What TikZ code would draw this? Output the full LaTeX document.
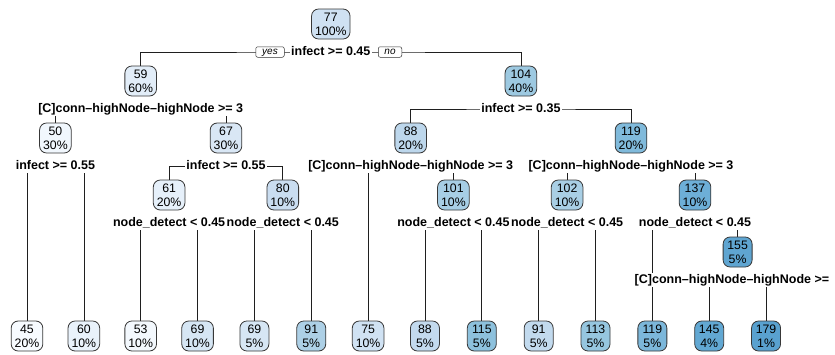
\documentclass[tikz,border=0pt]{standalone}
\usepackage{fontspec}
\setmainfont{Liberation Sans}
\pgfdeclarelayer{back0}
\pgfdeclarelayer{background}
\pgfsetlayers{back0,background,main}
\definecolor{c45}{HTML}{F7FBFF}
\definecolor{c50}{HTML}{F1F7FD}
\definecolor{c53}{HTML}{F3F8FD}
\definecolor{c59}{HTML}{E2EDF8}
\definecolor{c60}{HTML}{E9F2FB}
\definecolor{c61}{HTML}{E6F0FA}
\definecolor{c67}{HTML}{D9E7F5}
\definecolor{c69}{HTML}{D6E6F4}
\definecolor{c75}{HTML}{D0E2F3}
\definecolor{c77}{HTML}{CFE1F2}
\definecolor{c80}{HTML}{CADDF0}
\definecolor{c88}{HTML}{BDD7EC}
\definecolor{c88l}{HTML}{C3DAEE}
\definecolor{c91a}{HTML}{ADD0E6}
\definecolor{c91b}{HTML}{C2DAEE}
\definecolor{c101}{HTML}{A7CEE5}
\definecolor{c102}{HTML}{A9CFE5}
\definecolor{c104}{HTML}{9DC9E1}
\definecolor{c113}{HTML}{96C6DF}
\definecolor{c115}{HTML}{8DC1DD}
\definecolor{c119}{HTML}{80BADB}
\definecolor{c119l}{HTML}{7CB7DA}
\definecolor{c137}{HTML}{6DAFD7}
\definecolor{c145}{HTML}{62A8D3}
\definecolor{c155}{HTML}{5FA5D1}
\definecolor{c179}{HTML}{59A1CF}
\tikzset{
  tnode/.style={draw=black!78, line width=0.8pt, rounded corners=7pt, align=center,
    inner xsep=3.5pt, inner ysep=1pt, minimum height=30pt, minimum width=29pt,
    font=\fontsize{12.3}{14}\selectfont},
  split/.style={fill=white, inner xsep=1.5pt, inner ysep=1pt, text height=9.5pt, text depth=2.5pt,
    font=\fontsize{12.5}{14}\selectfont\bfseries},
  yn/.style={draw=black!80, fill=white, rounded corners=2pt, line width=0.5pt,
    inner xsep=0pt, inner ysep=0pt, minimum height=10.5pt, text height=6pt, text depth=1.5pt,
    font=\fontsize{10}{10}\selectfont\itshape},
  edge/.style={draw=black!88, line width=0.7pt},
}
\begin{document}
\begin{tikzpicture}[x=1pt,y=-1pt]
\useasboundingbox (0,0) rectangle (835,354);
\begin{pgfonlayer}{back0}
\fill[white] (0,0) rectangle (835,354);
\end{pgfonlayer}
% internal nodes
\node[tnode, fill=c77] (n77) at (330.8,24) {77\\100\%};
\node[tnode, fill=c59] (n59) at (140.7,81) {59\\60\%};
\node[tnode, fill=c104] (n104) at (520.9,81) {104\\40\%};
\node[tnode, fill=c50] (n50) at (55.4,138) {50\\30\%};
\node[tnode, fill=c67] (n67) at (226,138) {67\\30\%};
\node[tnode, fill=c88] (n88) at (410.7,138) {88\\20\%};
\node[tnode, fill=c119] (n119) at (631,138) {119\\20\%};
\node[tnode, fill=c61] (n61) at (169.1,195) {61\\20\%};
\node[tnode, fill=c80] (n80) at (282.8,195) {80\\10\%};
\node[tnode, fill=c101] (n101) at (453.4,195) {101\\10\%};
\node[tnode, fill=c102] (n102) at (567.1,195) {102\\10\%};
\node[tnode, fill=c137] (n137) at (695,195) {137\\10\%};
\node[tnode, fill=c155] (n155) at (737.6,252) {155\\5\%};
% leaves
\node[tnode, fill=c45] (l0) at (27,336) {45\\20\%};
\node[tnode, fill=c60] (l1) at (83.85,336) {60\\10\%};
\node[tnode, fill=c53] (l2) at (140.7,336) {53\\10\%};
\node[tnode, fill=c69] (l3) at (197.55,336) {69\\10\%};
\node[tnode, fill=c69] (l4) at (254.4,336) {69\\5\%};
\node[tnode, fill=c91a] (l5) at (311.25,336) {91\\5\%};
\node[tnode, fill=c75] (l6) at (368.1,336) {75\\10\%};
\node[tnode, fill=c88l] (l7) at (424.95,336) {88\\5\%};
\node[tnode, fill=c115] (l8) at (481.8,336) {115\\5\%};
\node[tnode, fill=c91b] (l9) at (538.65,336) {91\\5\%};
\node[tnode, fill=c113] (l10) at (595.5,336) {113\\5\%};
\node[tnode, fill=c119l] (l11) at (652.35,336) {119\\5\%};
\node[tnode, fill=c145] (l12) at (709.2,336) {145\\4\%};
\node[tnode, fill=c179] (l13) at (766.05,336) {179\\1\%};
% split labels
\node[split] (s77) at (330.8,52) {infect >= 0.45};
\node[split] (s59) at (140.7,109) {[C]conn–highNode–highNode >= 3};
\node[split] (s104) at (520.9,109) {infect >= 0.35};
\node[split] (s50) at (55.4,166) {infect >= 0.55};
\node[split] (s67) at (226,166) {infect >= 0.55};
\node[split] (s88) at (410.7,166) {[C]conn–highNode–highNode >= 3};
\node[split] (s119) at (631,166) {[C]conn–highNode–highNode >= 3};
\node[split] (s61) at (169.1,223) {node\_detect < 0.45};
\node[split] (s80) at (282.8,223) {node\_detect < 0.45};
\node[split] (s101) at (453.4,223) {node\_detect < 0.45};
\node[split] (s102) at (567.1,223) {node\_detect < 0.45};
\node[split] (s137) at (695,223) {node\_detect < 0.45};
\node[split, anchor=west] (s155) at (633,280) {[C]conn–highNode–highNode >=};
% yes / no
\node[yn, minimum width=28.5pt] (yes) at (270,52) {yes};
\node[yn, minimum width=23.5pt] (no) at (390,52) {no};
% connectors
\begin{pgfonlayer}{background}
\draw[edge] (n59.north) |- (s77.center) -| (n104.north);
\draw[edge] (n50.north) |- (s59.center) -| (n67.north);
\draw[edge] (l0.north) |- (s50.center) -| (l1.north);
\draw[edge] (n61.north) |- (s67.center) -| (n80.north);
\draw[edge] (l2.north) |- (s61.center) -| (l3.north);
\draw[edge] (l4.north) |- (s80.center) -| (l5.north);
\draw[edge] (n88.north) |- (s104.center) -| (n119.north);
\draw[edge] (l6.north) |- (s88.center) -| (n101.north);
\draw[edge] (l7.north) |- (s101.center) -| (l8.north);
\draw[edge] (n102.north) |- (s119.center) -| (n137.north);
\draw[edge] (l9.north) |- (s102.center) -| (l10.north);
\draw[edge] (l11.north) |- (s137.center) -| (n155.north);
\draw[edge] (l12.north) |- (s155.center) -| (l13.north);
\end{pgfonlayer}
\end{tikzpicture}
\end{document}
